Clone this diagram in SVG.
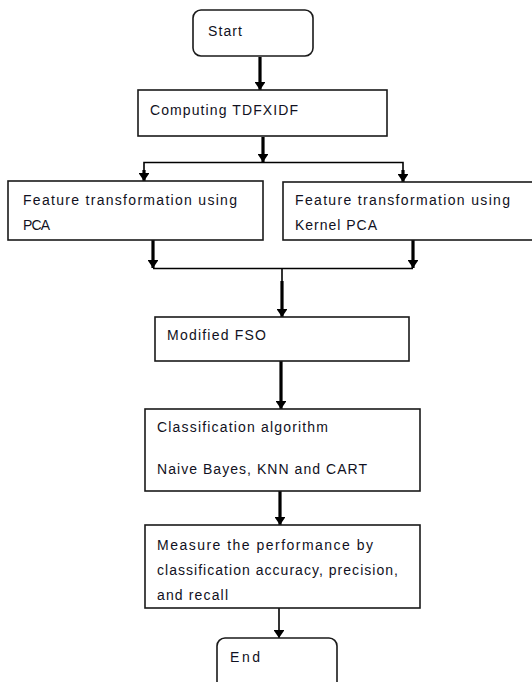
<svg xmlns="http://www.w3.org/2000/svg" width="532" height="682" viewBox="0 0 532 682">
<defs>
<marker id="ah" viewBox="0 0 8 11" refX="8" refY="5.5" markerWidth="2.5" markerHeight="3.4" orient="auto" markerUnits="strokeWidth">
<path d="M0,0 L8,5.5 L0,11 z" fill="#000"/>
</marker>
<marker id="ah2" viewBox="0 0 8 11" refX="8" refY="5.5" markerWidth="5" markerHeight="6.8" orient="auto" markerUnits="strokeWidth">
<path d="M0,0 L8,5.5 L0,11 z" fill="#000"/>
</marker>
</defs>
<style>
.box{fill:#fff;stroke:#1a1a1a;stroke-width:1.6}
.t{font-family:"Liberation Sans",Arial,sans-serif;font-size:14px;fill:#111122}
.thick{stroke:#000;stroke-width:3.2;fill:none}
.thin{stroke:#000;stroke-width:1.6;fill:none}
</style>
<rect width="532" height="682" fill="#fff"/>
<g id="connectors">
<line class="thick" x1="260" y1="57" x2="260" y2="90" marker-end="url(#ah)"/>
<line class="thick" x1="263" y1="137" x2="263" y2="162" marker-end="url(#ah)"/>
<polyline class="thin" points="144,181 144,162.5 403,162.5 403,181"/>
<line class="thick" x1="144" y1="170" x2="144" y2="181" marker-end="url(#ah)"/>
<line class="thick" x1="403" y1="170" x2="403" y2="182" marker-end="url(#ah)"/>
<line class="thick" x1="153" y1="240" x2="153" y2="268" marker-end="url(#ah)"/>
<line class="thick" x1="413" y1="240" x2="413" y2="268" marker-end="url(#ah)"/>
<line class="thin" x1="153" y1="268.5" x2="413" y2="268.5"/>
<line class="thin" x1="282" y1="268" x2="282" y2="282"/>
<line class="thick" x1="282" y1="281" x2="282" y2="317" marker-end="url(#ah)"/>
<line class="thick" x1="281" y1="361" x2="281" y2="409" marker-end="url(#ah)"/>
<line class="thick" x1="280" y1="491" x2="280" y2="525" marker-end="url(#ah)"/>
<line class="thin" x1="279" y1="608" x2="279" y2="638" marker-end="url(#ah2)"/>
</g>
<g id="start">
<rect class="box" x="193" y="10" width="120" height="46" rx="8"/>
<text class="t" x="208" y="36" textLength="34">Start</text>
</g>
<g id="computing">
<rect class="box" x="138" y="90" width="249" height="46"/>
<text class="t" x="150" y="115" textLength="148">Computing TDFXIDF</text>
</g>
<g id="pca">
<rect class="box" x="8" y="181" width="255" height="59"/>
<text class="t" x="23" y="205" textLength="214">Feature transformation using</text>
<text class="t" x="23" y="230" textLength="27">PCA</text>
</g>
<g id="kpca">
<rect class="box" x="283" y="182" width="260" height="58"/>
<text class="t" x="295" y="205" textLength="215">Feature transformation using</text>
<text class="t" x="295" y="230" textLength="82">Kernel PCA</text>
</g>
<g id="fso">
<rect class="box" x="155" y="317" width="254" height="44"/>
<text class="t" x="167" y="340" textLength="99">Modified FSO</text>
</g>
<g id="classification">
<rect class="box" x="145" y="409" width="275" height="82"/>
<text class="t" x="157" y="432" textLength="171">Classification algorithm</text>
<text class="t" x="157" y="474" textLength="210">Naive Bayes, KNN and CART</text>
</g>
<g id="measure">
<rect class="box" x="145" y="525" width="275" height="83"/>
<text class="t" x="157" y="550" textLength="216">Measure the performance by</text>
<text class="t" x="157" y="575" textLength="241">classification accuracy, precision,</text>
<text class="t" x="157" y="600" textLength="71">and recall</text>
</g>
<g id="end">
<rect class="box" x="217" y="638" width="120" height="60" rx="8"/>
<text class="t" x="230" y="662" textLength="30">End</text>
</g>
</svg>
